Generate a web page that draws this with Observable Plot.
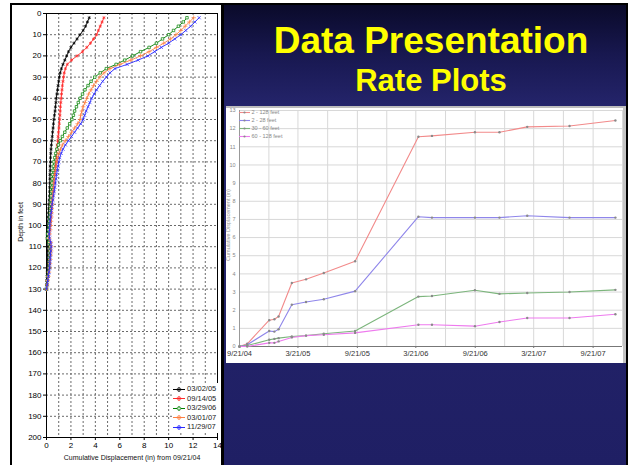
<!DOCTYPE html>
<html>
<head>
<meta charset="utf-8">
<script src="https://cdn.jsdelivr.net/npm/d3@7"></script>
<script src="https://cdn.jsdelivr.net/npm/@observablehq/plot@0.6"></script>
<style>
html,body{margin:0;padding:0;}
body{width:632px;height:465px;position:relative;overflow:hidden;background:#fff;font-family:"Liberation Sans",Arial,sans-serif;}
#slide{position:absolute;left:10px;top:3px;width:614px;height:462px;border-top:2px solid #000;border-left:2px solid #000;border-right:2px solid #000;
 background:linear-gradient(#0a0a2a 0px,#181850 50px,#25256d 105px,#222268 300px,#1f1f64 462px);}
#leftPanel{position:absolute;left:12px;top:5px;width:209px;height:460px;background:#fff;border-right:3px solid #000;}
.title{position:absolute;left:231px;width:400px;text-align:center;color:#ffff00;font-weight:bold;line-height:1;white-space:nowrap;}
#rightPanel{position:absolute;left:226px;top:106px;width:397px;height:255px;background:#fff;border-top:2px solid #bdbdbd;border-right:3px solid #c4c4c4;}
.abs{position:absolute;}
.leg{position:absolute;font-size:7.5px;color:#222;white-space:nowrap;line-height:1;}
.leg2{position:absolute;font-size:5.5px;color:#888;white-space:nowrap;line-height:1;}
</style>
</head>
<body>
<div id="slide"></div>
<div id="leftPanel"></div>
<div class="title" style="top:21.7px;font-size:37px;">Data Presentation</div>
<div class="title" style="top:65.3px;font-size:31px;">Rate Plots</div>
<div id="rightPanel"></div>
<div id="leftChart" class="abs" style="left:12px;top:5px;"></div>
<div id="rightChart" class="abs" style="left:226px;top:106px;"></div>
<div class="abs" style="left:20px;top:222px;transform:translate(-50%,-50%) rotate(-90deg);font-size:7px;color:#111;white-space:nowrap;">Depth in feet</div>
<div class="abs" style="left:132px;top:457px;transform:translate(-50%,-50%);font-size:7px;color:#111;white-space:nowrap;">Cumulative Displacement (in) from 09/21/04</div>
<div class="abs" style="left:227.5px;top:225px;transform:translate(-50%,-50%) rotate(-90deg);font-size:5.5px;color:#999;white-space:nowrap;">Cumulative Displacement (in)</div>
<div id="leftLegend" class="abs" style="left:172px;top:383px;width:46px;height:50px;background:#fff;"></div>
<div id="rightLegend" class="abs" style="left:239px;top:110px;width:50px;height:32px;"></div>
<script>
// ---------- Left chart: inclinometer profiles ----------
const depthFt = [2,4,6,8,10,12,14,16,18,20,22,24,26,28,30,32,34,36,38,40,
  42,44,46,48,50,52,54,56,58,60,62,64,66,68,70,72,74,76,78,80,
  82,84,86,88,90,92,94,96,98,100,102,104,106,108,110,112,114,116,118,120,
  122,124,126,128,130];
const readingDates = ["03/02/05","09/14/05","03/29/06","03/01/07","11/29/07"];
const disp030205 = [3.5,3.35,3.2,3.0,2.75,2.5,2.25,2.0,1.8,1.65,
  1.5,1.35,1.22,1.12,1.05,1.0,0.95,0.9,0.85,0.8,
  0.77,0.73,0.7,0.65,0.6,0.57,0.54,0.5,0.47,0.44,
  0.4,0.37,0.35,0.33,0.32,0.3,0.3,0.28,0.28,0.27,
  0.26,0.25,0.24,0.22,0.2,0.18,0.16,0.14,0.12,0.1,
  0.08,0.06,0.05,0.1,0.12,0.1,0.1,0.1,0.1,0.08,
  0.06,0.04,0.02,0.01,0];
const disp091405 = [4.7,4.55,4.4,4.25,4.1,3.85,3.6,3.3,2.95,2.5,
  2.05,1.7,1.55,1.45,1.4,1.35,1.3,1.27,1.23,1.2,
  1.17,1.14,1.12,1.1,1.08,1.05,1.02,0.98,0.95,0.92,
  0.88,0.85,0.82,0.8,0.77,0.74,0.7,0.66,0.63,0.6,
  0.57,0.54,0.5,0.47,0.45,0.42,0.4,0.36,0.33,0.3,
  0.27,0.22,0.2,0.28,0.3,0.28,0.27,0.25,0.23,0.2,
  0.15,0.1,0.06,0.03,0];
const disp032906 = [11.5,11.2,10.8,10.4,10.0,9.5,9.0,8.4,7.7,7.05,
  6.4,5.7,4.9,4.4,3.95,3.65,3.4,3.15,2.95,2.75,
  2.6,2.45,2.3,2.2,2.08,1.9,1.7,1.5,1.3,1.13,
  0.97,0.85,0.75,0.67,0.6,0.57,0.54,0.5,0.47,0.45,
  0.42,0.4,0.38,0.36,0.35,0.32,0.3,0.27,0.23,0.2,
  0.15,0.1,0.08,0.2,0.3,0.28,0.26,0.24,0.22,0.2,
  0.15,0.1,0.06,0.03,0];
const disp030107 = [12.05,11.7,11.35,11.0,10.6,10.15,9.6,9.0,8.4,7.7,
  6.9,6.0,5.2,4.7,4.37,4.1,3.85,3.65,3.45,3.3,
  3.15,3.0,2.9,2.8,2.75,2.55,2.3,2.05,1.8,1.54,
  1.3,1.15,1.02,0.93,0.87,0.8,0.75,0.7,0.65,0.6,
  0.57,0.54,0.5,0.47,0.45,0.43,0.41,0.39,0.37,0.35,
  0.3,0.25,0.22,0.35,0.4,0.37,0.34,0.31,0.28,0.25,
  0.2,0.15,0.1,0.05,0];
const disp112907 = [12.5,12.15,11.8,11.4,11.0,10.5,10.0,9.4,8.85,8.3,
  7.5,6.6,5.6,5.2,4.9,4.6,4.35,4.1,3.9,3.7,
  3.55,3.4,3.25,3.12,3.0,2.8,2.55,2.3,2.05,1.8,
  1.55,1.35,1.2,1.08,1.0,0.95,0.88,0.82,0.78,0.73,
  0.68,0.63,0.57,0.52,0.46,0.42,0.38,0.34,0.3,0.27,
  0.25,0.22,0.25,0.35,0.38,0.35,0.32,0.3,0.27,0.25,
  0.2,0.15,0.1,0.05,0];
const profileColors = ["#000000","#ff2a2a","#008000","#ff8040","#2a2aff"];
const profileSymbols = ["asterisk","asterisk","square","plus","times"];
const dispTicks = [0,2,4,6,8,10,12,14];
const dispGrid = [1,2,3,4,5,6,7,8,9,10,11,12,13];
const depthTicks = [0,10,20,30,40,50,60,70,80,90,100,110,120,130,140,150,160,170,180,190,200];

const profileValues = [disp030205,disp091405,disp032906,disp030107,disp112907];
const profiles = readingDates.flatMap((name,k) =>
  depthFt.map((d,i) => ({reading:name, depth:d, disp:profileValues[k][i]})));

const leftMarks = [
  Plot.gridX(dispGrid, {stroke:"#6a6a6a", strokeOpacity:1, strokeDasharray:"2,2"}),
  Plot.gridY(depthTicks.slice(1,-1), {stroke:"#6a6a6a", strokeOpacity:1, strokeDasharray:"2,2"}),
  Plot.frame({stroke:"#000"}),
  Plot.axisX(dispTicks, {tickSize:3, tickPadding:2, label:null, fontSize:8, fill:"#000"}),
  Plot.axisY(depthTicks, {tickSize:3, tickPadding:2, label:null, fontSize:8, fill:"#000"})
];
readingDates.forEach((name,k) => {
  const rows = profiles.filter(r => r.reading === name);
  leftMarks.push(Plot.line(rows, {x:"disp", y:"depth", stroke:profileColors[k], strokeWidth:0.9}));
  leftMarks.push(Plot.dot(rows, {x:"disp", y:"depth", stroke:profileColors[k], symbol:profileSymbols[k],
    r: profileSymbols[k]==="square" ? 1.4 : 1.6, fill: profileSymbols[k]==="square" ? "white" : "none", strokeWidth:0.7}));
});

const leftPlot = Plot.plot({
  width:208, height:460, marginLeft:34, marginRight:3, marginTop:8, marginBottom:28,
  x:{domain:[0,14]},
  y:{domain:[0,200], reverse:true},
  style:{fontFamily:"Liberation Sans, Arial, sans-serif", fontSize:"8px", background:"transparent", color:"#000", overflow:"visible"},
  marks:leftMarks
});
document.getElementById("leftChart").append(leftPlot);

// left legend
const leftLeg = document.getElementById("leftLegend");
readingDates.forEach((name,k) => {
  const row = document.createElement("div");
  row.className = "leg";
  row.style.left = "1px"; row.style.top = (2 + k*9.5) + "px";
  const sym = d3.symbol(Plot.symbol ? Plot.symbol(profileSymbols[k]) : d3.symbolCross, 9)();
  row.innerHTML = `<svg width="12" height="7" style="vertical-align:middle;overflow:visible"><line x1="0" y1="3.5" x2="12" y2="3.5" stroke="${profileColors[k]}"/><path transform="translate(6,3.5)" d="${sym}" fill="${profileSymbols[k]==='square'?'white':'none'}" stroke="${profileColors[k]}" stroke-width="0.7"/></svg> <span style="vertical-align:middle">${name}</span>`;
  leftLeg.append(row);
});

// ---------- Right chart: rate plot ----------
const rateDates = ["2004-09-21","2004-10-15","2004-12-22","2005-01-07","2005-01-20","2005-03-02",
  "2005-04-15","2005-06-09","2005-09-14","2006-03-29","2006-05-10","2006-09-20","2006-12-05",
  "2007-03-01","2007-07-10","2007-11-29"];
const rateNames = ["2 - 128 feet","2 - 28 feet","30 - 60 feet","60 - 128 feet"];
const rate2to128  = [0,0.15,1.45,1.5,1.65,3.5,3.7,4.05,4.7,11.55,11.6,11.8,11.8,12.1,12.15,12.45];
const rate2to28   = [0,0.1,0.85,0.82,0.95,2.3,2.45,2.6,3.05,7.15,7.1,7.1,7.1,7.2,7.1,7.1];
const rate30to60  = [0,0.05,0.37,0.42,0.46,0.55,0.6,0.7,0.85,2.75,2.78,3.1,2.9,2.95,3.0,3.12];
const rate60to128 = [0,0,0.2,0.2,0.28,0.5,0.6,0.65,0.75,1.2,1.2,1.12,1.35,1.57,1.57,1.78];
const rateColors = ["#f28a8a","#8f86ea","#7cb57c","#ee7aee"];
const rateYTicks = [0,1,2,3,4,5,6,7,8,9,10,11,12,13];
const rateLabelDates = ["2004-09-21","2005-03-21","2005-09-21","2006-03-21","2006-09-21","2007-03-21","2007-09-21"];
const rateGridDates = ["2004-12-21","2005-03-21","2005-06-21","2005-09-21","2005-12-21","2006-03-21","2006-06-21",
  "2006-09-21","2006-12-21","2007-03-21","2007-06-21","2007-09-21","2007-12-21"];
const rateDomain = ["2004-09-21","2007-12-21"];

const rateVals = [rate2to128,rate2to28,rate30to60,rate60to128];
const rates = rateNames.flatMap((name,k) =>
  rateDates.map((d,i) => ({series:name, date:new Date(d), value:rateVals[k][i]})));
const fmt = d => `${d.getUTCMonth()+1}/${d.getUTCDate()}/${String(d.getUTCFullYear()).slice(2)}`;

const rightMarks = [
  Plot.gridX(rateGridDates.map(d => new Date(d)), {stroke:"#d8d8d8", strokeOpacity:1}),
  Plot.gridY(rateYTicks.slice(1), {stroke:"#d8d8d8", strokeOpacity:1}),
  Plot.axisY(rateYTicks, {tickSize:0, tickPadding:4, label:null, fontSize:5.5, fill:"#888"}),
  Plot.axisX(rateLabelDates.map(d => new Date(d)), {tickSize:2, tickPadding:2, label:null, fontSize:7.5, fill:"#333", stroke:"#777", tickFormat:fmt}),
  Plot.ruleY([0], {stroke:"#777"}),
  Plot.ruleX([new Date(rateDomain[0])], {stroke:"#999"})
];
rateNames.forEach((name,k) => {
  const rows = rates.filter(r => r.series === name);
  rightMarks.push(Plot.line(rows, {x:"date", y:"value", stroke:rateColors[k], strokeWidth:1.1}));
  rightMarks.push(Plot.dot(rows, {x:"date", y:"value", r:1.2, fill:"#8a8a8a"}));
});

const rightPlot = Plot.plot({
  width:397, height:257, marginLeft:13, marginRight:1, marginTop:4, marginBottom:17,
  x:{type:"utc", domain:rateDomain.map(d => new Date(d))},
  y:{domain:[0,13]},
  style:{fontFamily:"Liberation Sans, Arial, sans-serif", fontSize:"7px", background:"transparent", overflow:"visible"},
  marks:rightMarks
});
document.getElementById("rightChart").append(rightPlot);

// right legend
const rightLeg = document.getElementById("rightLegend");
rateNames.forEach((name,k) => {
  const row = document.createElement("div");
  row.className = "leg2";
  row.style.left = "0px"; row.style.top = (k*8) + "px";
  row.innerHTML = `<svg width="11" height="5" style="vertical-align:middle"><line x1="0" y1="2.5" x2="11" y2="2.5" stroke="${rateColors[k]}" stroke-width="1.1"/><circle cx="5.5" cy="2.5" r="1.1" fill="#8a8a8a"/></svg> <span style="vertical-align:middle">${name}</span>`;
  rightLeg.append(row);
});
</script>
</body>
</html>
